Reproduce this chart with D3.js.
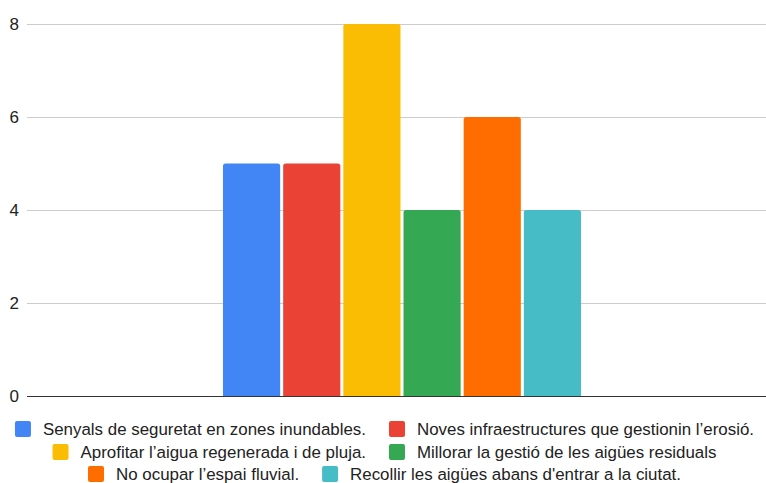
<!DOCTYPE html>
<html><head><meta charset="utf-8">
<script src="https://cdn.jsdelivr.net/npm/d3@7"></script>
<style>body{margin:0;background:#fff}svg{display:block}</style>
</head><body>
<svg id="c" width="766" height="483"></svg>
<script>
const series = ["Senyals de seguretat en zones inundables.","Noves infraestructures que gestionin l’erosió.","Aprofitar l’aigua regenerada i de pluja.","Millorar la gestió de les aigües residuals","No ocupar l’espai fluvial.","Recollir les aigües abans d'entrar a la ciutat."];
const values = [5,5,8,4,6,4];
const colors = ["#4285f4","#ea4335","#fbbc04","#34a853","#ff6d01","#46bdc6"];
const yTicks = [0,2,4,6,8];
const legendRows = [[0,1],[2,3],[4,5]];

const svg = d3.select("#c");
const font = "'Liberation Sans', Arial, sans-serif";
const plotL = 27, plotR = 766, y0 = 396, yTop = 24;
const y = d3.scaleLinear().domain([0,8]).range([y0,yTop]);
const outer = d3.scaleBand().domain(["g"]).range([27,777]).paddingOuter(0.5475).paddingInner(0);
const x = d3.scaleBand().domain(series).range([outer("g"), outer("g")+outer.bandwidth()]).paddingInner(0.05).paddingOuter(0);

// grid
svg.append("g").selectAll("line").data(yTicks.filter(d=>d>0)).join("line")
  .attr("x1",plotL).attr("x2",plotR).attr("y1",d=>y(d)+0.5).attr("y2",d=>y(d)+0.5)
  .attr("stroke","#cccccc").attr("stroke-width",1);
svg.append("g").selectAll("text").data(yTicks).join("text")
  .attr("x",19).attr("y",d=>y(d)+6).attr("text-anchor","end")
  .attr("font-family",font).attr("font-size",17).attr("fill","#222").text(d=>d);

// bars with rounded top
const r = 2.5;
svg.append("g").selectAll("path").data(values).join("path")
  .attr("fill",(d,i)=>colors[i])
  .attr("d",(d,i)=>{
    const x0 = x(series[i]), w = x.bandwidth(), yt = y(d), yb = y(0);
    return `M${x0},${yb}V${yt+r}Q${x0},${yt} ${x0+r},${yt}H${x0+w-r}Q${x0+w},${yt} ${x0+w},${yt+r}V${yb}Z`;
  });

// zero line
svg.append("line").attr("x1",plotL).attr("x2",plotR).attr("y1",y0+0.5).attr("y2",y0+0.5)
  .attr("stroke","#333").attr("stroke-width",1);

// legend
const lg = svg.append("g");
const rowY = [429,452,474];
const fs = 16.9, sq = 16, gapT = 12, gapI = 23, cx = 384.5;
legendRows.forEach((row,ri)=>{
  const g = lg.append("g");
  let xx = 0;
  row.forEach((si,k)=>{
    if(k>0) xx += gapI;
    g.append("rect").attr("x",xx).attr("y",rowY[ri]-sq/2).attr("width",sq).attr("height",sq)
      .attr("rx",2).attr("fill",colors[si]);
    xx += sq + gapT;
    const t = g.append("text").attr("x",xx).attr("y",rowY[ri]+6)
      .attr("font-family",font).attr("font-size",fs).attr("fill","#222").text(series[si]);
    xx += t.node().getComputedTextLength();
  });
  g.attr("transform",`translate(${cx - xx/2},0)`);
});
</script>
</body></html>
